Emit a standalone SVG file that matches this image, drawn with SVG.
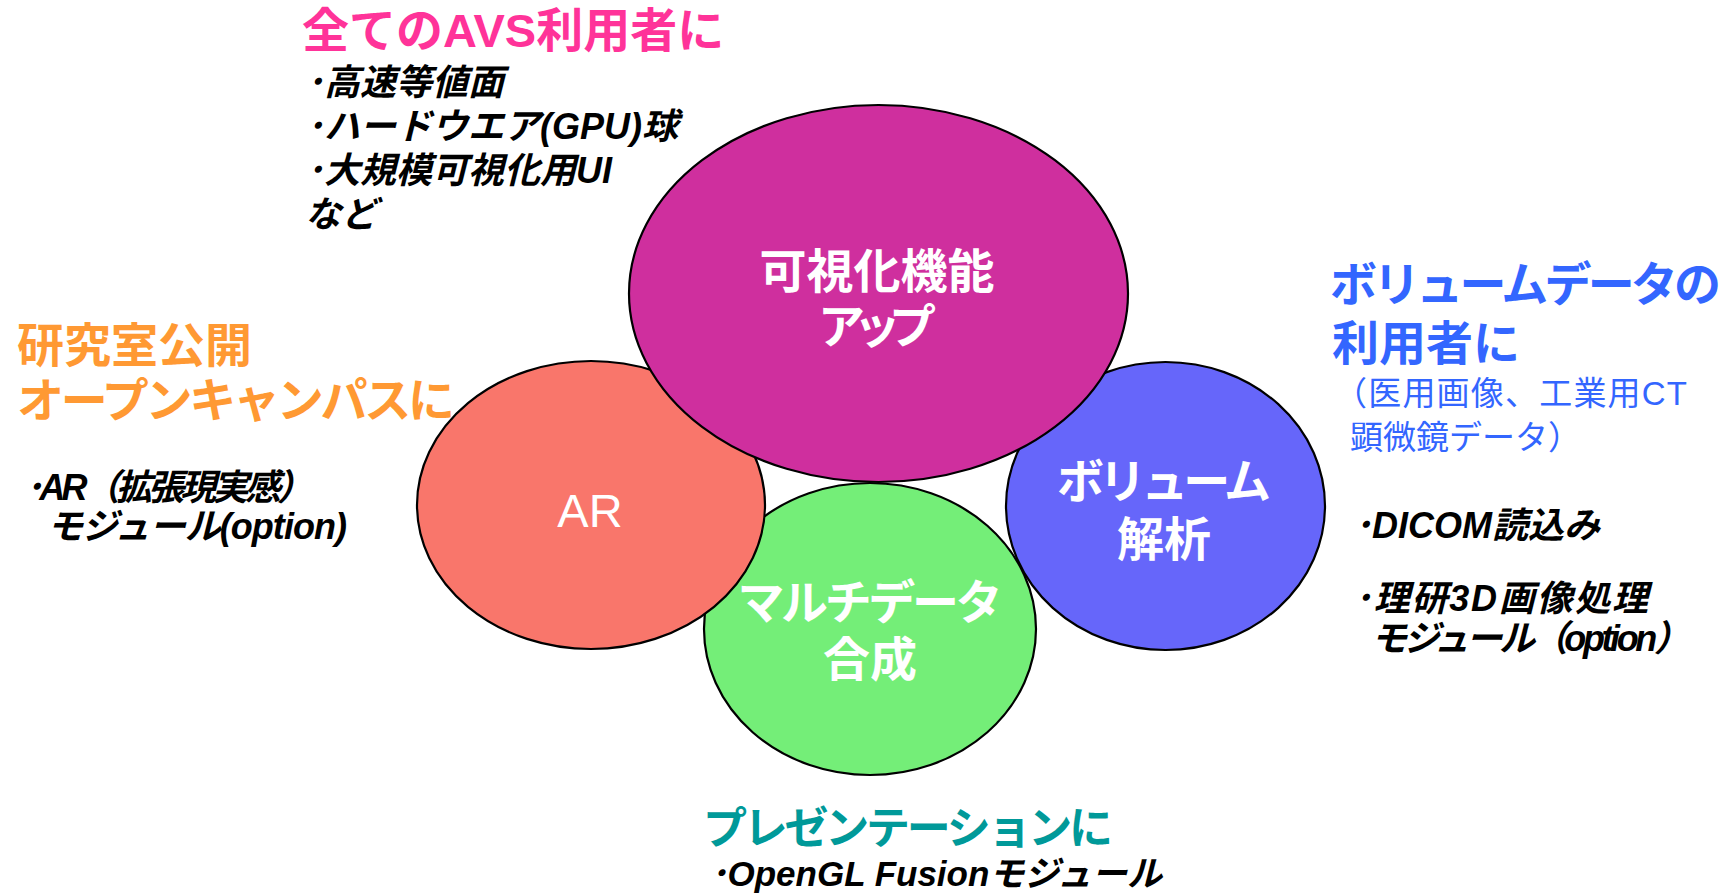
<svg xmlns="http://www.w3.org/2000/svg" width="1729" height="894" viewBox="0 0 1729 894">
<style>
.bub{stroke:#000;stroke-width:2.2}
text{font-family:"Liberation Sans","Noto Sans CJK JP",sans-serif}
.lbl{fill:#fff;font-size:47px;text-anchor:middle;font-weight:bold}
.item{fill:#000;font-size:36px;font-weight:bold;font-style:italic}
.hd{font-size:47px;font-weight:bold}
</style>
<rect width="1729" height="894" fill="#fff"/>
<g id="node-multi">
<ellipse class="bub" cx="870" cy="629" rx="166" ry="146" fill="#74EE78"/>
<text class="lbl" x="870" y="619" textLength="265">マルチデータ</text>
<text class="lbl" x="870" y="676">合成</text>
</g>
<g id="node-ar">
<ellipse class="bub" cx="591" cy="505" rx="174" ry="144" fill="#F9766B"/>
<text class="lbl" x="590" y="527" style="font-weight:normal">AR</text>
</g>
<g id="node-volume">
<ellipse class="bub" cx="1165.5" cy="506" rx="159.5" ry="144" fill="#6666FA"/>
<text class="lbl" x="1164" y="498" textLength="214">ボリューム</text>
<text class="lbl" x="1164" y="556">解析</text>
</g>
<g id="node-vis">
<ellipse class="bub" cx="878.5" cy="293.5" rx="249.5" ry="188.5" fill="#CF2F9E"/>
<text class="lbl" x="877" y="288">可視化機能</text>
<text class="lbl" x="877" y="343" textLength="118">アップ</text>
</g>
<g id="connectors"></g>
<g id="note-top">
<text class="hd" x="302" y="47" fill="#FF3399">全てのAVS利用者に</text>
<text class="item" x="306" y="95">･高速等値面</text>
<text class="item" x="306" y="139">･ハードウエア(GPU)球</text>
<text class="item" x="306" y="183">･大規模可視化用UI</text>
<text class="item" x="305" y="227">など</text>
</g>
<g id="note-left">
<text class="hd" x="17" y="362" fill="#FF9933">研究室公開</text>
<text class="hd" x="17" y="417" fill="#FF9933" textLength="438">オープンキャンパスに</text>
<text class="item" x="25" y="500" textLength="288">･AR（拡張現実感）</text>
<text class="item" x="47" y="539" textLength="300">モジュール(option)</text>
</g>
<g id="note-right">
<text class="hd" x="1330" y="301" fill="#3366FF" textLength="391">ボリュームデータの</text>
<text class="hd" x="1332" y="360" fill="#3366FF">利用者に</text>
<text x="1334" y="405" fill="#3366FF" font-size="33" textLength="353">（医用画像、工業用CT</text>
<text x="1350" y="449" fill="#3366FF" font-size="33">顕微鏡データ）</text>
<text class="item" x="1354" y="538">･DICOM読込み</text>
<text class="item" x="1354" y="611" textLength="294">･理研3D画像処理</text>
<text class="item" x="1371" y="651" textLength="319">モジュール（option）</text>
</g>
<g id="note-bottom">
<text class="hd" x="703" y="844" fill="#009999" font-size="44" style="font-size:44px" textLength="410">プレゼンテーションに</text>
<text class="item" x="710" y="886" style="font-size:35px">･OpenGL Fusionモジュール</text>
</g>
</svg>
